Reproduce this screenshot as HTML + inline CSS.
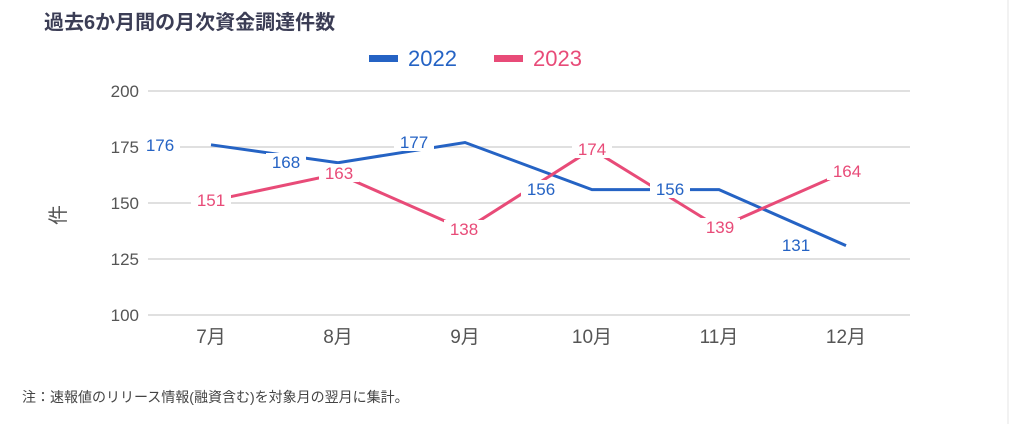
<!DOCTYPE html>
<html><head><meta charset="utf-8"><style>
body{margin:0;background:#fff;width:1018px;height:424px;overflow:hidden;font-family:"Liberation Sans","Noto Sans CJK JP",sans-serif;}
</style></head><body>
<svg width="1018" height="424" xmlns="http://www.w3.org/2000/svg" style="font-family:'Liberation Sans','Noto Sans CJK JP',sans-serif">
<text x="44" y="29" font-size="20" font-weight="bold" fill="#3b3d55">過去6か月間の月次資金調達件数</text>
<rect x="369" y="55" width="29" height="7" fill="#2563c4"/>
<text x="408" y="66" font-size="22" fill="#2563c4">2022</text>
<rect x="494" y="55" width="29" height="7" fill="#e84b78"/>
<text x="533" y="66" font-size="22" fill="#e84b78">2023</text>
<g stroke="#d6d6d6" stroke-width="1.5">
<line x1="148" y1="91" x2="910" y2="91"/><line x1="148" y1="147" x2="910" y2="147"/>
<line x1="148" y1="203" x2="910" y2="203"/><line x1="148" y1="259" x2="910" y2="259"/>
<line x1="148" y1="315" x2="910" y2="315"/>
</g>
<line x1="1008" y1="0" x2="1008" y2="424" stroke="#e4e4e4" stroke-width="1"/>
<g font-size="17" fill="#555" text-anchor="end">
<text x="139" y="97">200</text><text x="139" y="153">175</text><text x="139" y="209">150</text>
<text x="139" y="265">125</text><text x="139" y="321">100</text>
</g>
<text x="58" y="215" font-size="20" fill="#555" text-anchor="middle" transform="rotate(-90 58 215)" dy="7">件</text>
<g font-size="19" fill="#555" text-anchor="middle">
<text x="211" y="343">7月</text><text x="338" y="343">8月</text><text x="465" y="343">9月</text>
<text x="592" y="343">10月</text><text x="719" y="343">11月</text><text x="846" y="343">12月</text>
</g>
<polyline fill="none" stroke="#2563c4" stroke-width="3" points="211,144.8 338,162.7 465,142.5 592,189.6 719,189.6 846,245.6"/>
<polyline fill="none" stroke="#e84b78" stroke-width="3" points="211,200.8 338,173.9 465,229.9 592,149.2 719,227.6 846,171.6"/>
<g font-size="17" text-anchor="middle">
<g fill="#fff">
<rect x="140" y="136" width="40" height="18"/><rect x="266" y="153" width="40" height="18"/>
<rect x="394" y="133" width="40" height="18"/><rect x="521" y="180" width="40" height="18"/>
<rect x="650" y="180" width="40" height="18"/><rect x="776" y="236" width="40" height="18"/>
<rect x="191" y="191" width="40" height="18"/><rect x="319" y="164" width="40" height="18"/>
<rect x="444" y="220" width="40" height="18"/><rect x="572" y="140" width="40" height="18"/>
<rect x="700" y="218" width="40" height="18"/><rect x="827" y="162" width="40" height="18"/>
</g>
<g fill="#2563c4">
<text x="160" y="151">176</text><text x="286" y="168">168</text><text x="414" y="148">177</text>
<text x="541" y="195">156</text><text x="670" y="195">156</text><text x="796" y="251">131</text>
</g>
<g fill="#e84b78">
<text x="211" y="206">151</text><text x="339" y="179">163</text><text x="464" y="235">138</text>
<text x="592" y="155">174</text><text x="720" y="233">139</text><text x="847" y="177">164</text>
</g>
</g>
<text x="22" y="402" font-size="14" fill="#444">注：速報値のリリース情報(融資含む)を対象月の翌月に集計。</text>
</svg>
</body></html>
